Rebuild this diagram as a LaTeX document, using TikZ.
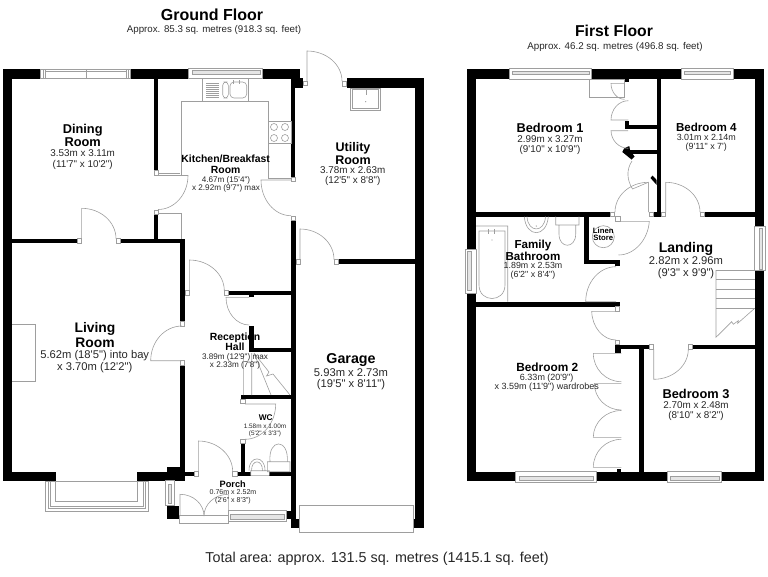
\documentclass[tikz,border=0pt]{standalone}
\usepackage{xcolor}
\usepackage{fontspec}
\usetikzlibrary{calc}
\newfontfamily\plansans{Liberation Sans}
\definecolor{planline}{gray}{0.62}

\begin{document}
\begin{tikzpicture}[
  x=0.75pt, y=-0.75pt,
  wall/.style={fill=black},
  thin line/.style={draw=planline, line width=0.45pt},
  jamb/.style={draw=planline, fill=white, line width=0.45pt},
  pane/.style={draw=planline, fill=black!10, line width=0.45pt},
  every node/.style={inner sep=0pt, align=center, text=black},
  roomname/.style 2 args={font=\plansans\fontsize{#1}{#2}\selectfont\bfseries},
  roomdims/.style 2 args={font=\plansans\fontsize{#1}{#2}\selectfont, text=black!85}
]
\useasboundingbox (0,0) rectangle (768,576);

% ground floor walls
\foreach \xa/\ya/\xb/\yb in {3/69.3/40/78.7, 130.7/69.3/189/78.7, 262/69.3/300/78.5, 295/78/303/88,
  3/69.3/12.3/481, 3/471.7/55.7/481, 137.3/471.7/185/480.5, 167.3/466.7/185/472, 185/471.7/194/476,
  154/78/158.3/170.7, 154/214.3/158.3/239, 12/238.7/77/243.3, 120.3/238.7/185/243.3,
  180.3/239/185/321.7, 180.3/365/185/472, 291/78/295/177, 291/220/295.7/527.7, 291/519.3/299/527.7,
  346.7/78.3/424/88, 415/78.3/424/527.7, 413/519.3/424/527.7, 338.7/259.3/415/264,
  229/290.7/291/295, 249.3/295/254/297, 249.3/326/254/352.3, 249.3/348/291/352.3,
  240.7/395/291/399.3, 240.7/443.3/245/472, 236.7/471.7/250.5/476, 269.3/471.7/291/476,
  167.3/506/179/519.3, 286/510.7/295.7/519.3}
  \fill[wall] (\xa,\ya) rectangle (\xb,\yb);

% first floor walls
\foreach \xa/\ya/\xb/\yb in {466.7/69.3/509.3/79, 591.7/69.3/681/79, 733.3/69.3/764/79,
  466.7/69.3/476/249.3, 466.7/293.3/476/480.7, 754.7/69.3/764/226, 754.7/270.7/764/480.7,
  466.7/471.7/515.7/480.7, 596/471.7/667.3/480.7, 721.7/471.7/764/480.7,
  656.7/79/661/216.7, 625/125/656.7/129.3, 625/120.7/629/125, 628.3/150/656.7/154.3, 625/79/629/81.7,
  476/212/610/216.7, 653.3/212/661/216.7, 704.3/212/754.7/216.7,
  584.3/216.7/589/264, 584.3/260/620/264, 615.3/260/620/266, 476/302.3/620/306.7,
  615.3/344.7/649/349, 615.3/349/621.3/352.7, 639.3/349/643.7/471.7, 692.7/344.7/754.7/349.3,
  616.7/468.7/620.7/471.7}
  \fill[wall] (\xa,\ya) rectangle (\xb,\yb);
\fill[wall] (624,148.5) -- (629.3,146) -- (630,150) -- (634.5,156.5) -- (631.5,159.5) -- (622.3,152) -- cycle;
\fill[wall] (652.5,175.5) -- (656.7,180) -- (656.7,185) -- (650.5,178) -- cycle;

% door jambs
\foreach \xa/\ya in {303/81, 342/81.7, 334/259.5, 296/259.5, 154/170.7, 154/210, 77/238.7, 116/238.7,
  180.3/321.7, 180.3/360.7, 291/177, 291/216, 185/290.7, 224.3/290.7, 240.7/399.3, 240.7/439.3,
  194/471.7, 232.7/471.7, 610/212, 648.8/212, 661/212, 700/212, 615.5/216.7, 615.3/306.7,
  615.3/340, 649/344.7, 688.3/344.7}
  \filldraw[jamb] (\xa,\ya) rectangle +(4.4,4.4);

% door leaves with their swings, hinge / tip / closing point
\foreach \hx/\hy/\tx/\ty/\cx/\cy in {307/81/307/51/342/81, 300/259.5/300/229/334/259.5,
  158/175.5/188/175.5/158/209.5, 81.6/238.7/81.6/208.3/116/238.7, 182/360.7/150.7/360.7/182/326,
  291/180/261/180/291/215.7, 189.3/290.7/189.3/260/224.3/290.7, 249.3/297.3/226/297.3/249.3/325,
  245/404/275.7/404/245/439.3, 198.3/471.7/198.3/441/232.7/471.7,
  180/516/180/494.3/204/516, 228.3/516/228.3/494.3/204/516,
  648.3/212/648.3/182.3/615/212, 665.7/212/665.7/182.3/700/212, 620.7/221.3/649.3/221.3/618.5/255,
  616/301.7/585.7/301.7/616/266.7, 615.3/311.3/591.7/311.3/616/340, 653.7/349.3/653.7/379.3/688.3/349.3,
  624.5/83.3/611/83.3/624.5/99.3, 628.3/120/611/120/628.3/100.7, 628/130.7/611/130.7/628.3/148.3,
  621.3/353.3/593.3/353.3/621.3/381.7, 621.3/383.3/594.3/383.3/621.3/410,
  621.3/437.3/593.3/437.3/621.3/410.5, 621.3/467.3/593.3/467.3/621.3/439.3}
  \draw[thin line] (\hx,\hy) -- (\tx,\ty)
    .. controls ($(\tx,\ty)+0.552*(\cx,\cy)-0.552*(\hx,\hy)$)
    and ($(\cx,\cy)+0.552*(\tx,\ty)-0.552*(\hx,\hy)$) .. (\cx,\cy);
\draw[thin line] (632,161) .. controls (626,170) and (627,180) .. (632.5,189) -- (648.3,182.3) -- (648.3,212);

% windows, outer box then pane
\foreach \xa/\ya/\xb/\yb/\xc/\yc/\xd/\yd in {188.3/68.3/262.3/78/192.7/70.7/260.7/74,
  228.3/510.7/286.7/521.7/230.7/514.3/284/519.3, 165.7/480.7/174/505.7/168/484/171.5/503,
  509.3/68.7/591.7/79/512.3/71/589.3/74.3, 681/68.7/733.3/79/684/71/730.7/74.3,
  515.7/471.7/596/482.3/519.3/476.7/593.3/480, 667.3/471.7/721.7/482.3/670.7/476.7/719.3/480,
  754.7/226/765/270.7/759/228.3/762.7/269.3, 465.7/249.3/476/293.3/467.7/251.7/471.7/290.7}
{
  \filldraw[jamb] (\xa,\ya) rectangle (\xb,\yb);
  \filldraw[pane] (\xc,\yc) rectangle (\xd,\yd);
}
\draw[thin line] (40,69.3) rectangle (130.7,78.7) (43.3,69.3) -- (43.3,78.7) (45.7,69.3) -- (45.7,78.7)
  (126,69.3) -- (126,78.7) (128,69.3) -- (128,78.7) (86,69.3) -- (86,78.7) (45.7,71) -- (126,71);

% bay window
\draw[thin line] (45,481) -- (45,511) -- (148.3,511) -- (148.3,481) -- cycle
  (48,481) -- (48,508) -- (145.7,508) -- (145.7,481)
  (50.7,481) -- (50.7,506) -- (143,506) -- (143,481)
  (55.7,481) -- (55.7,501) -- (137.3,501) -- (137.3,481);

% fittings ground floor
\draw[thin line] (12,324) -- (35.5,324) -- (35.5,381) -- (12,381);
\draw[thin line] (158,173) -- (180,173) (181,176) -- (181,101) -- (268,101) -- (268,178) -- (291,178)
  (158,213.5) -- (181,213.5) -- (181,239);
\draw[thin line] (268,121.7) rectangle (291,143) (202.7,78.7) rectangle (248,101);
\foreach \xa/\ya in {274/127, 285/127, 274/138, 285/138}
  \draw[thin line] (\xa,\ya) circle (3.5);
\foreach \ya in {83,85,87,89,91,93,95,97}
  \draw[thin line] (206,\ya) -- (219,\ya);
\draw[thin line, rounded corners=2.5] (222.7,82) rectangle (228.3,98);
\draw[thin line, rounded corners=3] (230,82) rectangle (246.7,98);
\draw[thin line] (233.5,80) -- (233.5,84) (239.5,80) -- (239.5,84);
\draw[thin line] (350.7,88.3) rectangle (380,110) (352.5,89.5) rectangle (378.5,108.5) (366,89) -- (366,95);
\fill[planline] (365.7,101.7) circle (0.7);
\draw[thin line] (179,515.7) rectangle (228.3,523.3);
\draw[thin line] (299,505.3) rectangle (413.3,532.3);
\draw[thin line] (243.3,356.7) -- (243.3,395) (251.7,353) -- (251.7,395) (254,353) -- (271,395)
  (254,353) -- (269,372) -- (266.5,376) -- (273,374) -- (290,395);
\draw[thin line] (250.7,470.7) rectangle (269.3,475.3)
  (249,470.5) .. controls (249,455) and (265,455) .. (265,470.5)
  (251.5,470.5) .. controls (251.5,459) and (262.5,459) .. (262.5,470.5);
\draw[thin line] (267.3,461.7) rectangle (290,471.7)
  (270,461.7) .. controls (268,438) and (289,438) .. (287.3,461.7);

% fittings first floor
\draw[thin line] (589.3,79) rectangle (624.3,97.3);
\draw[thin line] (476,226) -- (507.7,226) -- (507.7,301.7)
  (479,231) -- (505,231) -- (505,285) .. controls (505,303) and (479,303) .. (479,285) -- cycle;
\draw[thin line] (488,229) -- (488,234) (494,229) -- (494,234);
\fill[planline] (492,240) circle (0.7);
\draw[thin line] (524.3,216.7) .. controls (526,238) and (546.5,238) .. (548.3,216.7)
  (527,216.7) .. controls (528,233) and (544.5,233) .. (545.5,216.7);
\fill[planline] (536.3,226) circle (0.7);
\draw[thin line] (555.7,216.7) -- (555.7,225) -- (579,225) -- (579,216.7)
  (559,225) -- (559,234) .. controls (559,249) and (575.7,249) .. (575.7,234) -- (575.7,225);
\draw[thin line] (603.3,236.7) circle (11);
\foreach \ya in {270,279.5,289,298.5,308}
  \draw[thin line] (716,\ya) -- (754.7,\ya);
\draw[thin line] (716,270) -- (716,337.3)
  -- (731.7,321.7) -- (733.3,324.3) -- (738.3,320.7) -- (737.7,323.3) -- (754.7,308.3);

% headings
\node[roomname={12}{14}] (ground title) at (212,14.5) {Ground Floor};
\node[roomdims={7.3}{8}] (ground area) at (214,30) {Approx. 85.3 sq. metres (918.3 sq. feet)};
\node[roomname={11.8}{14}] (first title) at (614,31) {First Floor};
\node[roomdims={7.35}{8}] (first area) at (615,47) {Approx. 46.2 sq. metres (496.8 sq. feet)};
\node[roomdims={10.75}{12}] (total area) at (377,559) {Total area: approx. 131.5 sq. metres (1415.1 sq. feet)};

% ground floor rooms
\node[roomname={9.6}{9.75}] (dining) at (82.7,135.5) {Dining\\Room};
\node[roomdims={7.4}{8.25}] (dining size) at (82.7,159.5) {3.53m x 3.11m\\(11'7" x 10'2")};
\node[roomname={7.8}{8}] (kitchen) at (225.7,164.3) {Kitchen/Breakfast\\Room};
\node[roomdims={6.1}{6}] (kitchen size) at (226,184) {4.67m (15'4")\\x 2.92m (9'7") max};
\node[roomname={9.4}{9.5}] (utility) at (353,153.5) {Utility\\Room};
\node[roomdims={7.4}{7.5}] (utility size) at (352.7,176.5) {3.78m x 2.63m\\(12'5" x 8'8")};
\node[roomname={10.4}{11.25}] (living) at (95,334.7) {Living\\Room};
\node[roomdims={8.4}{8.8}] (living size) at (94.7,361.8) {5.62m (18'5") into bay\\x 3.70m (12'2")};
\node[roomname={7.8}{7.8}] (hall) at (235,341.5) {Reception\\Hall};
\node[roomdims={6.1}{6}] (hall size) at (235,361) {3.89m (12'9") max\\x 2.33m (7'8")};
\node[roomname={6.2}{7}] (wc) at (265.7,417.7) {WC};
\node[roomdims={4.8}{5}] (wc size) at (265,430.6) {1.58m x 1.00m\\(5'2" x 3'3")};
\node[roomname={6.9}{7}] (porch) at (232.7,484.3) {Porch};
\node[roomdims={5.3}{5.7}] (porch size) at (233,497) {0.76m x 2.52m\\(2'6" x 8'3")};
\node[roomname={10.7}{11}] (garage) at (351,360) {Garage};
\node[roomdims={8.4}{8.8}] (garage size) at (351,379.2) {5.93m x 2.73m\\(19'5" x 8'11")};

% first floor rooms
\node[roomname={9.6}{10}] (bed one) at (550,127.7) {Bedroom 1};
\node[roomdims={7.4}{7.5}] (bed one size) at (550,145) {2.99m x 3.27m\\(9'10" x 10'9")};
\node[roomname={8.7}{9}] (bed four) at (706.3,127) {Bedroom 4};
\node[roomdims={6.7}{6.75}] (bed four size) at (706.3,143) {3.01m x 2.14m\\(9'11" x 7')};
\node[roomname={8.7}{8.5}] (bathroom) at (533,250.2) {Family\\Bathroom};
\node[roomdims={6.65}{6.75}] (bathroom size) at (533,271.2) {1.89m x 2.53m\\(6'2" x 8'4")};
\node[roomname={5.8}{5.5}] (linen) at (603.3,234.4) {Linen\\Store};
\node[roomname={10.5}{11}] (landing) at (686,249) {Landing};
\node[roomdims={8.4}{8.5}] (landing size) at (686,267.7) {2.82m x 2.96m\\(9'3" x 9'9")};
\node[roomname={8.9}{9}] (bed two) at (547.3,367.3) {Bedroom 2};
\node[roomdims={6.75}{6.75}] (bed two size) at (546.7,383) {6.33m (20'9")\\x 3.59m (11'9") wardrobes};
\node[roomname={9.6}{10}] (bed three) at (696,393.7) {Bedroom 3};
\node[roomdims={7.4}{7.7}] (bed three size) at (696,411) {2.70m x 2.48m\\(8'10" x 8'2")};
\end{tikzpicture}
\end{document}
